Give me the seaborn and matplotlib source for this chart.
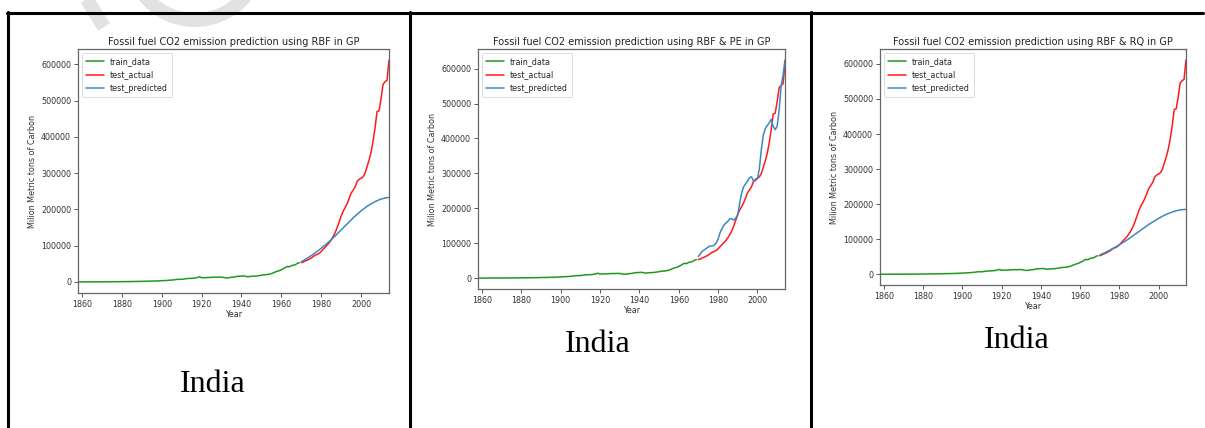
import pandas as pd
import matplotlib.pyplot as plt
import seaborn as sns
from matplotlib.lines import Line2D
from matplotlib.patches import Arc

# style: plain white axes with ticks, DejaVu for the charts
sns.set_style('ticks')
plt.rcParams['font.family'] = ['DejaVu Sans']

# --- data (thousand metric tons of carbon, India) ---
train_years = list(range(1858, 1970))
train_data = [
    70, 80, 100, 110, 130, 150, 170, 200, 220, 250, 270, 300,
    330, 360, 400, 440, 480, 520, 560, 600, 640, 700,
    760, 820, 900, 980, 1050, 1100, 1200, 1300, 1400, 1500,
    1650, 1800, 1900, 2000, 2150, 2300, 2450, 2600, 2800, 3100,
    3500, 3800, 4000, 4300, 4800, 5200, 5600, 6500, 7300, 7000,
    7400, 8000, 8800, 9500, 9700, 10000, 10300, 11000, 12500, 14000,
    11500, 12000, 11800, 12000, 12500, 12800, 13000, 13200, 13000, 13500,
    13200, 12500, 11300, 11000, 12000, 13000, 13200, 14500, 15500, 15800,
    16200, 16500, 16000, 14200, 15000, 15500, 15800, 16000, 16800, 17500,
    18500, 19500, 20000, 20500, 21500, 23000, 25000, 27500, 29500, 31000,
    33500, 36500, 40000, 42500, 41500, 45000, 46000, 47500, 51000, 53000,
]

test_years = list(range(1970, 2015))
test_actual = [
    53000, 55000, 58000, 60000, 63000, 66000, 70000, 74000, 76000, 79000,
    84000, 90000, 96000, 102000, 108000, 116000, 125000, 136000, 150000, 166000,
    182000, 195000, 205000, 216000, 230000, 245000, 253000, 262000, 277000, 283000,
    286000, 290000, 300000, 318000, 336000, 358000, 388000, 425000, 470000, 472000,
    505000, 545000, 552000, 556000, 612000,
]

pred_rbf = [
    56000, 59000, 62000, 65500, 69000, 72500, 76500, 80500, 84500, 88500,
    93000, 97500, 102000, 106500, 111500, 116500, 121500, 127000, 132500, 138000,
    143500, 149000, 154500, 160000, 165500, 171000, 176500, 181500, 186500, 191500,
    196000, 200500, 204500, 208500, 212000, 215500, 218500, 221500, 224000, 226500,
    228500, 230000, 231500, 232500, 233000,
]

pred_rbf_pe = [
    62000, 70000, 77000, 81000, 85000, 89000, 92000, 92000, 94000, 100000,
    112000, 130000, 142000, 152000, 158000, 163000, 170000, 170000, 166000, 172000,
    182000, 215000, 245000, 262000, 270000, 278000, 288000, 290000, 278000, 279000,
    285000, 315000, 370000, 410000, 428000, 437000, 445000, 455000, 435000, 425000,
    435000, 480000, 550000, 580000, 625000,
]

pred_rbf_rq = [
    55000, 57500, 60000, 62500, 65500, 68500, 71500, 74500, 77500, 80500,
    84000, 87500, 91000, 94500, 98000, 102000, 106000, 110000, 114000, 118000,
    122000, 126000, 130000, 134000, 138000, 142000, 145500, 149000, 152500, 156000,
    159500, 162500, 165500, 168500, 171000, 173500, 175500, 177500, 179500, 181000,
    182500, 183500, 184300, 184800, 185000,
]

titles = [
    'Fossil fuel CO2 emission prediction using RBF in GP',
    'Fossil fuel CO2 emission prediction using RBF & PE in GP',
    'Fossil fuel CO2 emission prediction using RBF & RQ in GP',
]
predictions = [pred_rbf, pred_rbf_pe, pred_rbf_rq]
captions = ['India', 'India', 'India']

W, H = 1205, 428
# axes boxes in pixels: left, top, right, bottom
boxes = [(78, 49, 389, 293), (478, 49, 785, 289), (880, 49, 1186, 285)]
caption_pos = [(213, 385), (598, 345), (1017, 340)]

fig = plt.figure(figsize=(W / 100, H / 100), dpi=100)

# faint watermark at the top left
wm = '#e2e2e2'
fig.add_artist(Line2D([84 / W, 104 / W], [1 - (-5) / H, 1 - 27 / H],
                      color=wm, lw=10, solid_capstyle='butt', zorder=0))
fig.add_artist(Arc((195 / W, 1 - (-45) / H), 2 * 65 / W, 2 * 65 / H,
                   theta1=205, theta2=340, color=wm, lw=10,
                   transform=fig.transFigure, zorder=0))

train_df = pd.DataFrame({'Year': train_years, 'value': train_data})

for i, (title, pred) in enumerate(zip(titles, predictions)):
    l, t, r, b = boxes[i]
    ax = fig.add_axes([l / W, 1 - b / H, (r - l) / W, (b - t) / H])
    test_df = pd.DataFrame({'Year': test_years, 'actual': test_actual, 'pred': pred})

    sns.lineplot(x='Year', y='value', data=train_df, ax=ax, color='#1e9a1e',
                 lw=1.1, label='train_data')
    sns.lineplot(x='Year', y='actual', data=test_df, ax=ax, color='#ff1a1a',
                 lw=1.1, label='test_actual')
    sns.lineplot(x='Year', y='pred', data=test_df, ax=ax, color='#3a87c4',
                 lw=1.1, label='test_predicted')

    ax.set_xlim(1858, 2014)
    ax.set_title(title, fontsize=7.0, color='#222222', pad=3)
    ax.set_xlabel('Year', fontsize=5.8, color='#333333', labelpad=1)
    ax.set_ylabel('Milion Metric tons of Carbon', fontsize=5.8, color='#333333', labelpad=3)
    ax.tick_params(labelsize=5.8, labelcolor='#333333', length=3, width=0.7,
                   color='#555555', pad=2)
    for s in ax.spines.values():
        s.set_color('#666666')
        s.set_linewidth(0.9)
        s.set_visible(True)
    leg = ax.legend(loc='upper left', fontsize=5.8, handlelength=2.2,
                    borderpad=0.5, labelspacing=0.55, framealpha=0.8)
    leg.get_frame().set_linewidth(0.6)

    cx, cy = caption_pos[i]
    fig.text(cx / W, 1 - cy / H, captions[i], ha='center', va='center',
             fontsize=23, family='Liberation Serif', color='black')

# table borders
fig.add_artist(Line2D([7 / W, 1203 / W], [1 - 13 / H, 1 - 13 / H], color='black', lw=2.2))
for x in [8, 410, 811]:
    fig.add_artist(Line2D([x / W, x / W], [1 - 12 / H, 0], color='black', lw=2.2))

plt.savefig('out.png', dpi=100)
